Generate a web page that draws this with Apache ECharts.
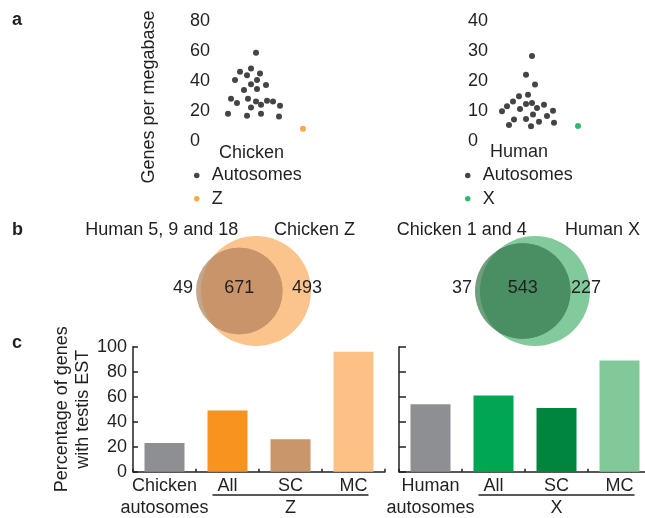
<!DOCTYPE html>
<html><head><meta charset="utf-8">
<script src="https://cdn.jsdelivr.net/npm/echarts@6/dist/echarts.min.js"></script>
<style>html,body{margin:0;padding:0;background:#fff}#c{width:645px;height:518px}</style>
</head><body><div id="c"></div>
<script>
// ---------------- data ----------------
// panel a: genes per megabase (x = horizontal jitter position of each dot)
const chickenAutoJitter  = [66,50,61,57,70,45,67,61,76,54,67,41,47,58,61,66,71,77,83,90,38,57,71,89];
const chickenAutoDensity = [59.1,46.3,48.5,44.1,45.2,40.8,40.8,38.1,37.5,34.2,34.8,28.4,25.5,28.4,22.6,26.6,24.4,27.1,26.6,23.7,18.4,17.1,18.4,16.5];
const chickenZJitter  = [113];
const chickenZDensity = [8.3];
const humanAutoJitter  = [64,58,67,51,60,45,39,34,52,58,64,69,76,85,79,65,58,46,41,63,71,86];
const humanAutoDensity = [28.4,22.2,18.9,15.0,15.5,13.3,11.7,10.0,10.8,12.4,12.8,11.1,12.2,10.2,8.4,8.9,7.4,7.3,5.4,5.0,6.5,6.2];
const humanXJitter  = [110];
const humanXDensity = [5.1];
const chickenDensityTicks = [0,20,40,60,80];
const humanDensityTicks = [0,10,20,30,40];

// panel b: Venn counts [only first set, shared, only second set]
const vennZSets   = ['Human 5, 9 and 18', 'Chicken Z'];
const vennZCounts = [49, 671, 493];
const vennXSets   = ['Chicken 1 and 4', 'Human X'];
const vennXCounts = [37, 543, 227];

// panel c: percentage of genes with testis EST
const chickenBarCats   = ['Chicken\nautosomes', 'All', 'SC', 'MC'];
const chickenBarValues = [23, 49, 26, 96];
const humanBarCats     = ['Human\nautosomes', 'All', 'SC', 'MC'];
const humanBarValues   = [54, 61, 51, 89];
const percentTicks     = [0,20,40,60,80,100];
const chickenGroupLabel = 'Z';
const humanGroupLabel   = 'X';

// ---------------- styles ----------------
const FONT = '"Liberation Sans", Arial, Helvetica, sans-serif';
const INK = '#231f20';
const FS = 18;
const chickenBarColors = ['#8d8f92', '#f7931e', '#c9956a', '#fdc085'];
const humanBarColors   = ['#8d8f92', '#00a651', '#00853f', '#82c99a'];
const vennStyles = [
  {cx:256, cy:291, R:55, protrude:5, large:'#fbc48c', small:'#c3a78a', overlap:'#c9946a', labelAx:-1, labelBx:18},
  {cx:535, cy:291, R:55, protrude:5, large:'#82ca9b', small:'#6f9e7c', overlap:'#4a8e63', labelAx:4, labelBx:30}
];

const zip = (a,b) => a.map((v,i)=>[v,b[i]]);
const txt = (extra) => Object.assign({fontSize:FS, fontFamily:FONT, color:INK}, extra||{});

function vennSeries(idx, sets, counts){
  const st = vennStyles[idx];
  const aTotal = counts[0]+counts[1], bTotal = counts[1]+counts[2];
  const rB = st.R, rA = st.R*Math.sqrt(aTotal/bTotal);
  const offA = -(rB - rA) - st.protrude;
  return {
    type:'custom', xAxisIndex:2+idx, yAxisIndex:2+idx, silent:true, clip:false,
    data:[[0,0]],
    renderItem:function(params, api){
      const cB = api.coord([0,0]);
      const cA = api.coord([offA,0]);
      const pts = [];
      for(let i=0;i<720;i++){
        const t = i*Math.PI/360;
        let x = cA[0]+rA*Math.cos(t), y = cA[1]+rA*Math.sin(t);
        const dx=x-cB[0], dy=y-cB[1], d=Math.hypot(dx,dy);
        if(d>rB){ x=cB[0]+dx/d*rB; y=cB[1]+dy/d*rB; }
        pts.push([x,y]);
      }
      const t = (s, x, y, align) => ({type:'text', x:x, y:y, style:{text:String(s), fontSize:FS, fontFamily:FONT, fill:INK, align:align||'center', verticalAlign:'middle'}});
      const cy = cB[1]-3;
      return {type:'group', children:[
        {type:'circle', shape:{cx:cB[0], cy:cB[1], r:rB}, style:{fill:st.large}},
        {type:'circle', shape:{cx:cA[0], cy:cA[1], r:rA}, style:{fill:st.small}},
        {type:'polygon', shape:{points:pts}, style:{fill:st.overlap}},
        t(counts[0], cA[0]-rA-13, cy),
        t(counts[1], cA[0], cy),
        t(counts[2], cB[0]+rB-4, cy),
        t(sets[0], cA[0]+st.labelAx, cB[1]-61, 'right'),
        t(sets[1], cB[0]+st.labelBx, cB[1]-61, 'left')
      ]};
    }
  };
}

const gridBase = {outerBoundsMode:'none', containLabel:false};
const option = {
  animation:false,
  backgroundColor:'#fff',
  textStyle:{fontFamily:FONT},
  title:[
    {text:'a', left:12, top:11.5, padding:0, textStyle:txt({fontWeight:'bold', lineHeight:18})},
    {text:'b', left:12, top:221.5, padding:0, textStyle:txt({fontWeight:'bold', lineHeight:18})},
    {text:'c', left:12, top:334.5, padding:0, textStyle:txt({fontWeight:'bold', lineHeight:18})},
    {text:'Chicken', left:219, top:144.5, padding:0, textStyle:txt({fontWeight:'normal', lineHeight:18})},
    {text:'Human', left:490, top:143.5, padding:0, textStyle:txt({fontWeight:'normal', lineHeight:18})}
  ],
  legend:[
    {data:['Autosomes','Z'], orient:'vertical', left:194, top:166.4, padding:0, itemWidth:20, itemHeight:5.5, itemGap:5.3, icon:'circle', selectedMode:false, textStyle:txt({lineHeight:18})},
    {data:['Autosomes','X'], orient:'vertical', left:465, top:166.4, padding:0, itemWidth:20, itemHeight:5.5, itemGap:5.3, icon:'circle', selectedMode:false, textStyle:txt({lineHeight:18})}
  ],
  grid:[
    Object.assign({left:190, top:21.3, width:130, height:120}, gridBase),
    Object.assign({left:468, top:21.3, width:130, height:120}, gridBase),
    Object.assign({left:vennStyles[0].cx-110, top:vennStyles[0].cy-110, width:220, height:220}, gridBase),
    Object.assign({left:vennStyles[1].cx-110, top:vennStyles[1].cy-110, width:220, height:220}, gridBase),
    Object.assign({left:133, top:346.7, width:252, height:125}, gridBase),
    Object.assign({left:399, top:346.7, width:252, height:125}, gridBase)
  ],
  xAxis:[
    {gridIndex:0, type:'value', min:0, max:130, show:false},
    {gridIndex:1, type:'value', min:0, max:130, show:false},
    {gridIndex:2, type:'value', min:-110, max:110, show:false},
    {gridIndex:3, type:'value', min:-110, max:110, show:false},
    {gridIndex:4, type:'category', data:chickenBarCats, boundaryGap:true,
     axisLine:{show:true, lineStyle:{color:INK, width:1.5}},
     axisTick:{show:true, inside:true, length:3, lineStyle:{color:INK, width:1.5}},
     axisLabel:txt({interval:0, margin:3, lineHeight:22})},
    {gridIndex:5, type:'category', data:humanBarCats, boundaryGap:true,
     axisLine:{show:true, lineStyle:{color:INK, width:1.5}},
     axisTick:{show:true, inside:true, length:3, lineStyle:{color:INK, width:1.5}},
     axisLabel:txt({interval:0, margin:3, lineHeight:22})}
  ],
  yAxis:[
    {gridIndex:0, type:'value', min:chickenDensityTicks[0], max:chickenDensityTicks[chickenDensityTicks.length-1], interval:chickenDensityTicks[1]-chickenDensityTicks[0],
     axisLine:{show:false}, axisTick:{show:false}, splitLine:{show:false},
     axisLabel:txt({align:'left', margin:0})},
    {gridIndex:1, type:'value', min:humanDensityTicks[0], max:humanDensityTicks[humanDensityTicks.length-1], interval:humanDensityTicks[1]-humanDensityTicks[0],
     axisLine:{show:false}, axisTick:{show:false}, splitLine:{show:false},
     axisLabel:txt({align:'left', margin:0})},
    {gridIndex:2, type:'value', min:-110, max:110, show:false},
    {gridIndex:3, type:'value', min:-110, max:110, show:false},
    {gridIndex:4, type:'value', min:percentTicks[0], max:percentTicks[percentTicks.length-1], interval:percentTicks[1]-percentTicks[0],
     name:'Percentage of genes\nwith testis EST', nameLocation:'middle', nameGap:39,
     nameTextStyle:txt({lineHeight:21}),
     axisLine:{show:true, lineStyle:{color:INK, width:1.5}},
     axisTick:{show:true, inside:true, length:5, lineStyle:{color:INK, width:1.5}},
     splitLine:{show:false}, axisLabel:txt({margin:6})},
    {gridIndex:5, type:'value', min:percentTicks[0], max:percentTicks[percentTicks.length-1], interval:percentTicks[1]-percentTicks[0],
     axisLine:{show:true, lineStyle:{color:INK, width:1.5}},
     axisTick:{show:true, inside:true, length:7, lineStyle:{color:INK, width:1.5}},
     splitLine:{show:false}, axisLabel:{show:false}}
  ],
  series:[
    {type:'scatter', name:'Autosomes', xAxisIndex:0, yAxisIndex:0, data:zip(chickenAutoJitter, chickenAutoDensity), symbolSize:6, itemStyle:{color:'#161414'}, silent:true},
    {type:'scatter', name:'Z', xAxisIndex:0, yAxisIndex:0, data:zip(chickenZJitter, chickenZDensity), symbolSize:6, itemStyle:{color:'#f7931e'}, silent:true},
    {type:'scatter', name:'Autosomes', xAxisIndex:1, yAxisIndex:1, data:zip(humanAutoJitter, humanAutoDensity), symbolSize:6, itemStyle:{color:'#161414'}, silent:true},
    {type:'scatter', name:'X', xAxisIndex:1, yAxisIndex:1, data:zip(humanXJitter, humanXDensity), symbolSize:6, itemStyle:{color:'#00a651'}, silent:true},
    vennSeries(0, vennZSets, vennZCounts),
    vennSeries(1, vennXSets, vennXCounts),
    {type:'bar', xAxisIndex:4, yAxisIndex:4, barWidth:40, silent:true,
     data:chickenBarValues.map((v,i)=>({value:v, itemStyle:{color:chickenBarColors[i]}}))},
    {type:'bar', xAxisIndex:5, yAxisIndex:5, barWidth:40, silent:true,
     data:humanBarValues.map((v,i)=>({value:v, itemStyle:{color:humanBarColors[i]}}))}
  ]
};

const chart = echarts.init(document.getElementById('c'), null, {renderer:'canvas'});
chart.setOption(option);

// group underline + group label under All/SC/MC
function groupDecor(gridIndex, cats, label){
  const pAll = chart.convertToPixel({gridIndex:gridIndex}, [cats[1], 0]);
  const pSC  = chart.convertToPixel({gridIndex:gridIndex}, [cats[2], 0]);
  const pMC  = chart.convertToPixel({gridIndex:gridIndex}, [cats[3], 0]);
  const y = pAll[1];
  return [
    {type:'line', silent:true, shape:{x1:pAll[0]-15, y1:y+23.3, x2:pMC[0]+15, y2:y+23.3}, style:{stroke:INK, lineWidth:1.5}},
    {type:'text', silent:true, x:pSC[0], y:y+36.5, style:{text:label, fontSize:FS, fontFamily:FONT, fill:INK, align:'center', verticalAlign:'middle'}}
  ];
}
chart.setOption({graphic:[
  {type:'text', silent:true, x:149, y:97, rotation:Math.PI/2, style:{text:'Genes per megabase', fontSize:FS, fontFamily:FONT, fill:INK, align:'center', verticalAlign:'middle'}}
].concat(groupDecor(4, chickenBarCats, chickenGroupLabel), groupDecor(5, humanBarCats, humanGroupLabel))});
</script>
</body></html>
